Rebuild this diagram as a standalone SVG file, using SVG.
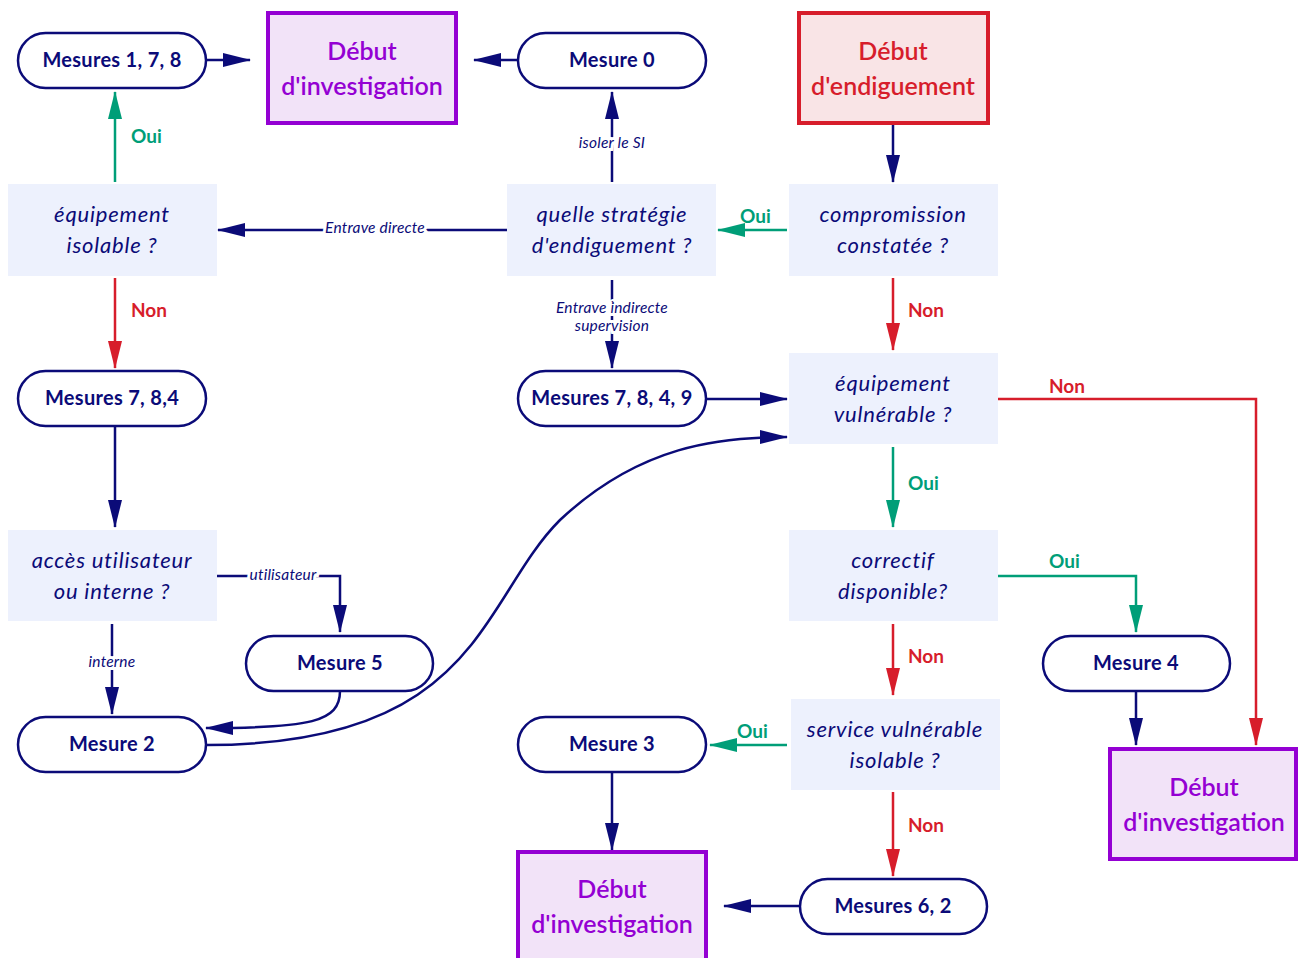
<svg xmlns="http://www.w3.org/2000/svg" width="1298" height="958" viewBox="0 0 1298 958">
<style>
.term{fill:#fff;stroke:#0b0b78;stroke-width:2.5}
.q{fill:#edf1fd}
.inv{fill:#f2e3f8;stroke:#9400d3;stroke-width:4}
.end{fill:#f9e4e6;stroke:#d71d2b;stroke-width:4}
.tt{font-family:"Lato","Liberation Sans",sans-serif;font-weight:bold;font-size:20px;fill:#0b0b78;text-anchor:middle;letter-spacing:0.3px}
.qt{font-family:"Lato","Liberation Sans",sans-serif;font-style:italic;font-size:22px;fill:#0b0b78;text-anchor:middle;letter-spacing:0.8px}
.it{font-family:"Lato","Liberation Sans",sans-serif;font-weight:600;font-size:25px;fill:#9400d3;text-anchor:middle}
.et{font-family:"Lato","Liberation Sans",sans-serif;font-weight:600;font-size:25px;fill:#d71d2b;text-anchor:middle}
.n{fill:none;stroke:#0b0b78;stroke-width:2.5}
.g{fill:none;stroke:#009e78;stroke-width:2.5}
.r{fill:none;stroke:#d71d2b;stroke-width:2.5}
.lg{font-family:"Lato","Liberation Sans",sans-serif;font-weight:bold;font-size:19px;fill:#009e78}
.lr{font-family:"Lato","Liberation Sans",sans-serif;font-weight:bold;font-size:19px;fill:#d71d2b}
.ln{font-family:"Lato","Liberation Sans",sans-serif;font-style:italic;font-size:15.5px;fill:#0b0b78;text-anchor:middle;stroke:#fff;stroke-width:6;paint-order:stroke;letter-spacing:0.2px}
</style>
<defs>
<marker id="an" markerUnits="userSpaceOnUse" markerWidth="28" markerHeight="14" refX="27" refY="7" orient="auto"><path d="M0,0 L28,7 L0,14 z" fill="#0b0b78"/></marker>
<marker id="ag" markerUnits="userSpaceOnUse" markerWidth="28" markerHeight="14" refX="27" refY="7" orient="auto"><path d="M0,0 L28,7 L0,14 z" fill="#009e78"/></marker>
<marker id="ar" markerUnits="userSpaceOnUse" markerWidth="28" markerHeight="14" refX="27" refY="7" orient="auto"><path d="M0,0 L28,7 L0,14 z" fill="#d71d2b"/></marker>
</defs>

<g id="connectors">
<path class="n" d="M206,60 H250" marker-end="url(#an)"/>
<path class="n" d="M518,60 H474" marker-end="url(#an)"/>
<path class="g" d="M115,182 V92" marker-end="url(#ag)"/>
<path class="n" d="M612,182 V92" marker-end="url(#an)"/>
<path class="n" d="M893,123 V182" marker-end="url(#an)"/>
<path class="g" d="M787,230 H718" marker-end="url(#ag)"/>
<path class="n" d="M507,230 H218" marker-end="url(#an)"/>
<path class="r" d="M115,278 V368" marker-end="url(#ar)"/>
<path class="n" d="M612,280 V368" marker-end="url(#an)"/>
<path class="r" d="M893,278 V350" marker-end="url(#ar)"/>
<path class="n" d="M706,399 H787" marker-end="url(#an)"/>
<path class="r" d="M998,399 H1256 V745" marker-end="url(#ar)"/>
<path class="g" d="M893,447 V527" marker-end="url(#ag)"/>
<path class="n" d="M115,426 V527" marker-end="url(#an)"/>
<path class="n" d="M217,576 H340 V632" marker-end="url(#an)"/>
<path class="n" d="M112,624 V714" marker-end="url(#an)"/>
<path class="n" d="M340,691 C340,722 310,728 206,728" marker-end="url(#an)"/>
<path class="n" d="M206,745 C480,745 480,600 560,520 C640,445 720,437 787,437" marker-end="url(#an)"/>
<path class="g" d="M998,576 H1136 V632" marker-end="url(#ag)"/>
<path class="r" d="M893,624 V695" marker-end="url(#ar)"/>
<path class="n" d="M1136,691 V745" marker-end="url(#an)"/>
<path class="g" d="M787,745 H710" marker-end="url(#ag)"/>
<path class="r" d="M893,792 V876" marker-end="url(#ar)"/>
<path class="n" d="M612,772 V850" marker-end="url(#an)"/>
<path class="n" d="M800,906 H724" marker-end="url(#an)"/>
<text class="lg" x="131" y="143">Oui</text>
<text class="ln" x="612" y="148">isoler le SI</text>
<text class="lg" x="740" y="223">Oui</text>
<text class="ln" x="375" y="233">Entrave directe</text>
<text class="lr" x="131" y="317">Non</text>
<text class="ln" x="612" y="313">Entrave indirecte</text>
<text class="ln" x="612" y="331">supervision</text>
<text class="lr" x="908" y="317">Non</text>
<text class="lr" x="1049" y="393">Non</text>
<text class="lg" x="908" y="490">Oui</text>
<text class="ln" x="283" y="580">utilisateur</text>
<text class="ln" x="112" y="667">interne</text>
<text class="lg" x="1049" y="568">Oui</text>
<text class="lr" x="908" y="663">Non</text>
<text class="lg" x="737" y="738">Oui</text>
<text class="lr" x="908" y="832">Non</text>
</g>

<g id="m178"><rect class="term" x="18" y="33" width="188" height="55" rx="27.5"/><text class="tt" x="112" y="67">Mesures 1, 7, 8</text></g>
<g id="inv1"><rect class="inv" x="268" y="13" width="188" height="110"/><text class="it" x="362" y="60">Début</text><text class="it" x="362" y="95">d'investigation</text></g>
<g id="m0"><rect class="term" x="518" y="33" width="188" height="55" rx="27.5"/><text class="tt" x="612" y="67">Mesure 0</text></g>
<g id="endig"><rect class="end" x="799" y="13" width="189" height="110"/><text class="et" x="893" y="60">Début</text><text class="et" x="893" y="95">d'endiguement</text></g>
<g id="qisol"><rect class="q" x="8" y="184" width="209" height="92"/><text class="qt" x="112" y="222">équipement</text><text class="qt" x="112" y="253">isolable ?</text></g>
<g id="qstrat"><rect class="q" x="507" y="184" width="209" height="92"/><text class="qt" x="612" y="222">quelle stratégie</text><text class="qt" x="612" y="253">d'endiguement ?</text></g>
<g id="qcomp"><rect class="q" x="789" y="184" width="209" height="92"/><text class="qt" x="893" y="222">compromission</text><text class="qt" x="893" y="253">constatée ?</text></g>
<g id="m784"><rect class="term" x="18" y="371" width="188" height="55" rx="27.5"/><text class="tt" x="112" y="405">Mesures 7, 8,4</text></g>
<g id="m7849"><rect class="term" x="518" y="371" width="188" height="55" rx="27.5"/><text class="tt" x="612" y="405">Mesures 7, 8, 4, 9</text></g>
<g id="qvuln"><rect class="q" x="789" y="353" width="209" height="91"/><text class="qt" x="893" y="391">équipement</text><text class="qt" x="893" y="422">vulnérable ?</text></g>
<g id="qacces"><rect class="q" x="8" y="530" width="209" height="91"/><text class="qt" x="112" y="568">accès utilisateur</text><text class="qt" x="112" y="599">ou interne ?</text></g>
<g id="qcorr"><rect class="q" x="789" y="530" width="209" height="91"/><text class="qt" x="893" y="568">correctif</text><text class="qt" x="893" y="599">disponible?</text></g>
<g id="m5"><rect class="term" x="246" y="636" width="187" height="55" rx="27.5"/><text class="tt" x="340" y="670">Mesure 5</text></g>
<g id="m4"><rect class="term" x="1043" y="636" width="187" height="55" rx="27.5"/><text class="tt" x="1136" y="670">Mesure 4</text></g>
<g id="m2"><rect class="term" x="18" y="717" width="188" height="55" rx="27.5"/><text class="tt" x="112" y="751">Mesure 2</text></g>
<g id="m3"><rect class="term" x="518" y="717" width="188" height="55" rx="27.5"/><text class="tt" x="612" y="751">Mesure 3</text></g>
<g id="qserv"><rect class="q" x="791" y="699" width="209" height="91"/><text class="qt" x="895" y="737">service vulnérable</text><text class="qt" x="895" y="768">isolable ?</text></g>
<g id="inv2"><rect class="inv" x="1110" y="749" width="186" height="110"/><text class="it" x="1204" y="796">Début</text><text class="it" x="1204" y="831">d'investigation</text></g>
<g id="inv3"><rect class="inv" x="518" y="852" width="188" height="112"/><text class="it" x="612" y="898">Début</text><text class="it" x="612" y="933">d'investigation</text></g>
<g id="m62"><rect class="term" x="800" y="879" width="187" height="55" rx="27.5"/><text class="tt" x="893" y="913">Mesures 6, 2</text></g>
</svg>
